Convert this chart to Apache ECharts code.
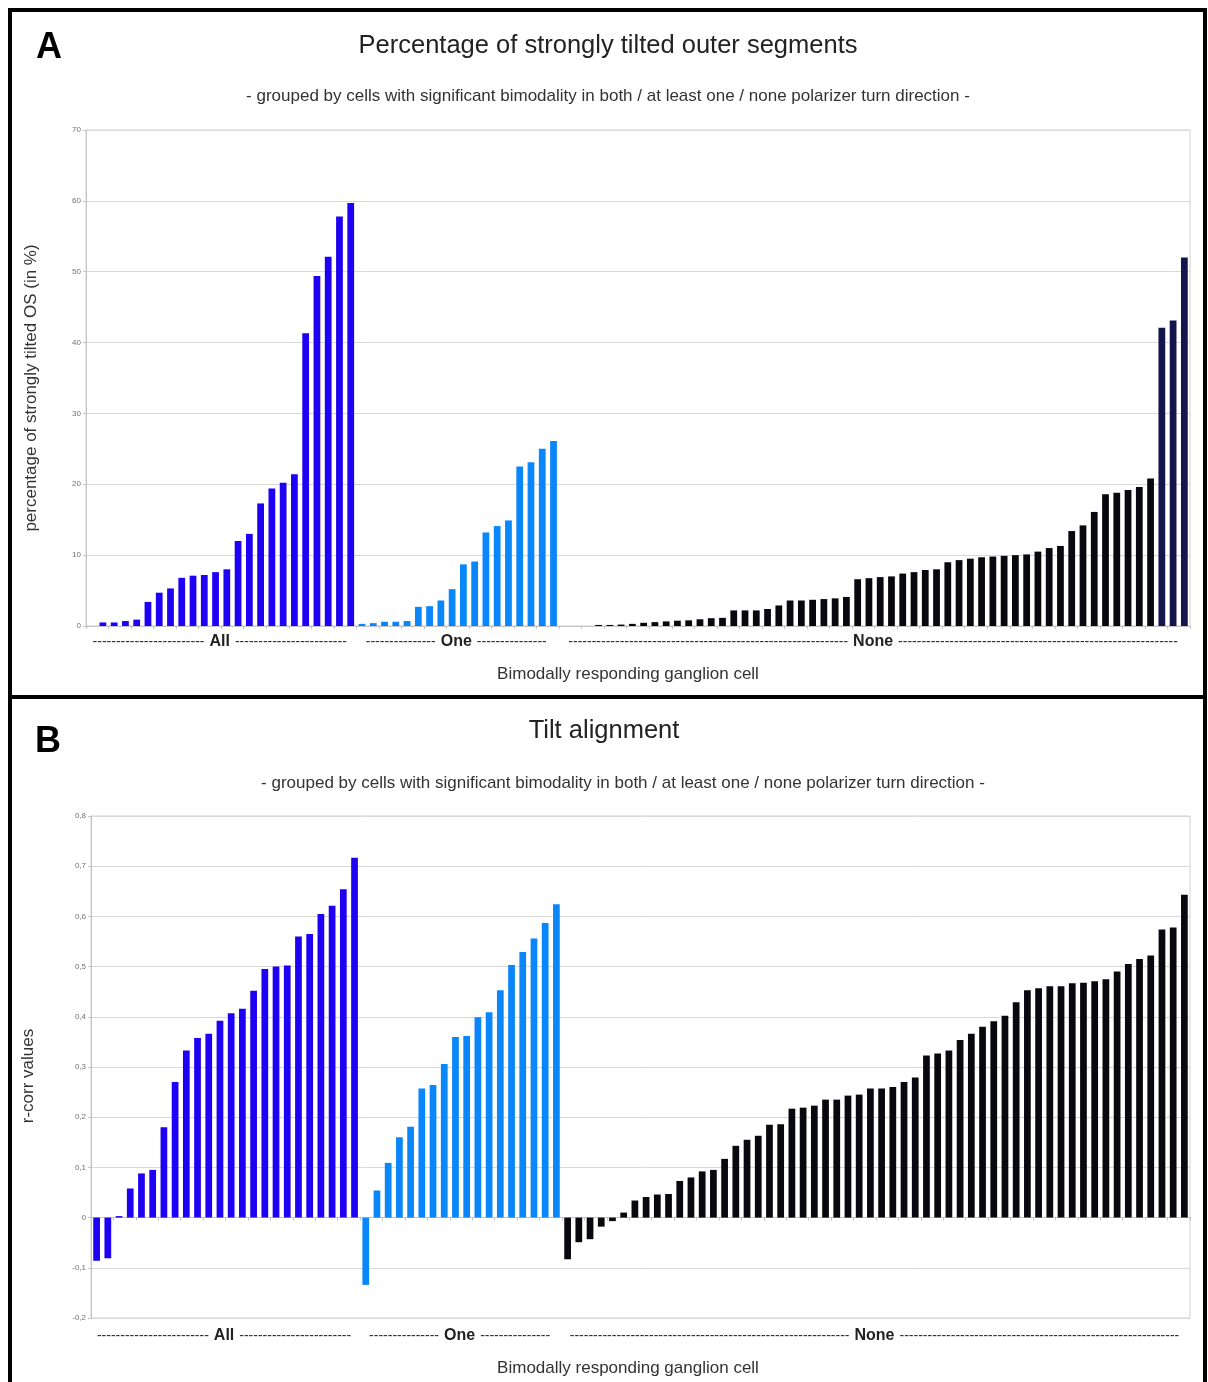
<!DOCTYPE html>
<html>
<head>
<meta charset="utf-8">
<title>Tilted outer segments and tilt alignment</title>
<script src="https://cdn.jsdelivr.net/npm/echarts@6/dist/echarts.min.js"></script>
<style>
  html, body { margin: 0; padding: 0; background: #fff; }
  #chart { width: 1208px; height: 1382px; }
</style>
</head>
<body>
<div id="chart"></div>
<script>
// Groups of bimodally responding ganglion cells
const groupNames = ['All', 'One', 'None'];

// Panel A: percentage of strongly tilted outer segments (in %), sorted within each group
const tiltedAll = [0, 0.5, 0.5, 0.7, 0.9, 3.4, 4.7, 5.3, 6.8, 7.1, 7.2, 7.6, 8.0, 12.0, 13.0, 17.3,
  19.4, 20.2, 21.4, 41.3, 49.4, 52.1, 57.8, 59.7];
const tiltedOne = [0.3, 0.4, 0.6, 0.6, 0.7, 2.7, 2.8, 3.6, 5.2, 8.7, 9.1, 13.2, 14.1, 14.9, 22.5,
  23.1, 25.0, 26.1];
const tiltedNone = [0, 0, 0, 0.15, 0.15, 0.2, 0.3, 0.45, 0.55, 0.65, 0.75, 0.8, 0.95, 1.1, 1.15,
  2.2, 2.2, 2.2, 2.4, 2.9, 3.6, 3.6, 3.7, 3.8, 3.9, 4.1, 6.6, 6.75, 6.9, 7.0, 7.4, 7.6, 7.9, 8.0,
  9.0, 9.3, 9.5, 9.7, 9.8, 9.9, 10.0, 10.1, 10.5, 11.0, 11.3, 13.4, 14.2, 16.1, 18.6, 18.8, 19.2,
  19.6, 20.8, 42.1, 43.1, 52.0];

// Panel B: tilt alignment (r-corr values), sorted within each group
const rcorrAll = [-0.086, -0.081, 0.003, 0.058, 0.088, 0.095, 0.180, 0.270, 0.333, 0.358, 0.366,
  0.392, 0.407, 0.416, 0.452, 0.495, 0.500, 0.502, 0.560, 0.565, 0.605, 0.621, 0.654, 0.717];
const rcorrOne = [-0.134, 0.054, 0.109, 0.160, 0.181, 0.257, 0.264, 0.306, 0.360, 0.362, 0.399,
  0.409, 0.453, 0.503, 0.529, 0.556, 0.587, 0.624];
const rcorrNone = [-0.083, -0.049, -0.043, -0.018, -0.007, 0.010, 0.034, 0.041, 0.046, 0.047,
  0.073, 0.080, 0.092, 0.095, 0.117, 0.143, 0.155, 0.163, 0.185, 0.186, 0.217, 0.219, 0.223,
  0.235, 0.235, 0.243, 0.245, 0.257, 0.257, 0.260, 0.270, 0.279, 0.323, 0.327, 0.333, 0.354,
  0.366, 0.380, 0.391, 0.402, 0.429, 0.453, 0.457, 0.461, 0.461, 0.467, 0.468, 0.471, 0.475,
  0.490, 0.505, 0.515, 0.522, 0.574, 0.578, 0.643];

// Axis ticks
const tiltedTicks = { min: 0, max: 70, interval: 10 };
const rcorrTicks = { min: -0.2, max: 0.8, interval: 0.1 };

const FONT = "'Liberation Sans', Arial, sans-serif";
const groupColors = ['#1e00f2', '#0a86fb', '#08080e'];
const tallNoneColor = '#15154e';

const nTotal = tiltedAll.length + tiltedOne.length + tiltedNone.length;
const cells = Array.from({ length: nTotal }, (_, i) => String(i + 1));

// Place each group's values on the shared cell axis, leaving other slots empty
function padGroups(groups) {
  const out = [];
  let offset = 0;
  groups.forEach((vals) => {
    const arr = new Array(nTotal).fill('-');
    vals.forEach((v, i) => { arr[offset + i] = v; });
    out.push({ data: arr, start: offset, end: offset + vals.length - 1 });
    offset += vals.length;
  });
  return out;
}
const panelA = padGroups([tiltedAll, tiltedOne, tiltedNone]);
const panelB = padGroups([rcorrAll, rcorrOne, rcorrNone]);

// The highest "None" bars in panel A are drawn in a dark navy
panelA[2].data = panelA[2].data.map((v) =>
  (v !== '-' && v >= 40) ? { value: v, itemStyle: { color: tallNoneColor } } : v);

const grids = [
  { left: 86, top: 130, width: 1104, height: 496 },
  { left: 91, top: 816, width: 1099, height: 502 }
];

function makeXAxis(gridIndex) {
  return {
    type: 'category', gridIndex, data: cells, boundaryGap: true,
    axisLine: { show: true, onZero: true, lineStyle: { color: '#c4c4c4', width: 1 } },
    axisTick: { show: true, length: 3, lineStyle: { color: '#c4c4c4' } },
    axisLabel: { show: false },
    splitLine: { show: false }
  };
}
function makeYAxis(gridIndex, ticks, fmt) {
  return {
    type: 'value', gridIndex, min: ticks.min, max: ticks.max, interval: ticks.interval,
    axisLine: { show: true, lineStyle: { color: '#c4c4c4' } },
    axisTick: { show: true, length: 3, lineStyle: { color: '#c4c4c4' } },
    axisLabel: { fontSize: 8, color: '#707070', fontFamily: FONT, margin: 5, formatter: fmt },
    splitLine: { show: true, lineStyle: { color: '#d8d8d8', width: 1 } }
  };
}

function makeSeries(panel, axisIndex) {
  return panel.map((g, k) => ({
    type: 'bar', name: groupNames[k], xAxisIndex: axisIndex, yAxisIndex: axisIndex,
    stack: 'cells' + axisIndex, data: g.data, barWidth: '60%',
    itemStyle: { color: groupColors[k] }, silent: true, animation: false
  }));
}

const text = (x, y, str, size, opts) => Object.assign({
  type: 'text', x, y, silent: true,
  style: Object.assign({
    text: str, fontSize: size, fontFamily: FONT, fill: '#222',
    align: 'center', verticalAlign: 'middle'
  }, (opts && opts.style) || {})
}, (opts && opts.el) || {});

const chart = echarts.init(document.getElementById('chart'), null, { width: 1208, height: 1382 });

const subtitle = '- grouped by cells with significant bimodality in both / at least one / none polarizer turn direction -';
const xName = 'Bimodally responding ganglion cell';

const baseGraphics = [
  // panel frames
  { type: 'rect', shape: { x: 10, y: 10, width: 1195, height: 687 }, silent: true,
    style: { fill: 'none', stroke: '#000', lineWidth: 4 } },
  { type: 'rect', shape: { x: 10, y: 697, width: 1195, height: 720 }, silent: true,
    style: { fill: 'none', stroke: '#000', lineWidth: 4 } },
  // panel letters
  text(49, 48, 'A', 36, { style: { fontWeight: 'bold', fill: '#000' } }),
  text(48, 742, 'B', 36, { style: { fontWeight: 'bold', fill: '#000' } }),
  // titles
  text(608, 46, 'Percentage of strongly tilted outer segments', 25.5),
  text(608, 96, subtitle, 17, { style: { fill: '#333' } }),
  text(604, 731, 'Tilt alignment', 25.5),
  text(623, 783, subtitle, 17, { style: { fill: '#333' } }),
  // axis names
  text(31, 388, 'percentage of strongly tilted OS (in %)', 17, { el: { rotation: Math.PI / 2 }, style: { fill: '#333' } }),
  text(28, 1076, 'r-corr values', 17, { el: { rotation: Math.PI / 2 }, style: { fill: '#333' } }),
  text(628, 674, xName, 17, { style: { fill: '#333' } }),
  text(628, 1368, xName, 17, { style: { fill: '#333' } })
];

chart.setOption({
  backgroundColor: '#fff',
  animation: false,
  grid: grids.map((g) => Object.assign({ show: true, borderColor: '#d0d0d0', borderWidth: 1,
    backgroundColor: 'transparent', containLabel: false }, g)),
  xAxis: [makeXAxis(0), makeXAxis(1)],
  yAxis: [
    makeYAxis(0, tiltedTicks, (v) => String(v)),
    makeYAxis(1, rcorrTicks, (v) => String(Math.round(v * 10) / 10).replace('.', ','))
  ],
  series: makeSeries(panelA, 0).concat(makeSeries(panelB, 1)),
  graphic: baseGraphics
});

// Group labels under each axis: "------ All ------" spanning the group's cells
const ctx = document.createElement('canvas').getContext('2d');
const dashFont = '14px ' + FONT;
ctx.font = dashFont;
const dashW = ctx.measureText('-').width;
const nameFont = 'bold 16px ' + FONT;

const groupLabels = [];
[[panelA, 0, 642], [panelB, 1, 1336]].forEach(([panel, idx, y]) => {
  panel.forEach((g, k) => {
    const x0 = chart.convertToPixel({ xAxisIndex: idx }, g.start) - 1;
    const x1 = chart.convertToPixel({ xAxisIndex: idx }, g.end) - 2;
    const cx = (x0 + x1) / 2;
    ctx.font = nameFont;
    const nameW = ctx.measureText(groupNames[k]).width;
    const side = (x1 - x0 - nameW) / 2 - 6;
    const n = Math.max(1, Math.floor(side / dashW));
    groupLabels.push(text(cx, y, groupNames[k], 16, { style: { fontWeight: 'bold', fill: '#222' } }));
    groupLabels.push(text(cx - nameW / 2 - 5, y, '-'.repeat(n), 14, { style: { align: 'right', fill: '#333' } }));
    groupLabels.push(text(cx + nameW / 2 + 5, y, '-'.repeat(n), 14, { style: { align: 'left', fill: '#333' } }));
  });
});

chart.setOption({ graphic: baseGraphics.concat(groupLabels) }, { replaceMerge: ['graphic'] });
</script>
</body>
</html>
